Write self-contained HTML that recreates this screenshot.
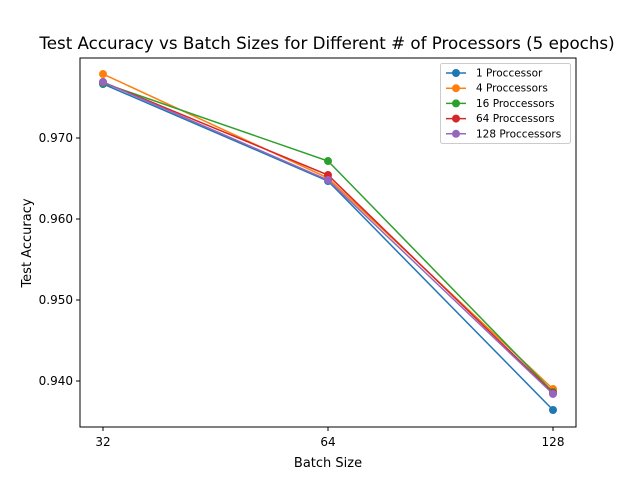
<!DOCTYPE html>
<html><head><meta charset="utf-8"><style>
body{margin:0;background:#fff;}
svg{display:block;font-family:"DejaVu Sans","Liberation Sans",sans-serif;}
</style></head><body>
<svg id="chart" width="640" height="480">
<text x="327" y="49" font-size="16.7" text-anchor="middle">Test Accuracy vs Batch Sizes for Different # of Processors (5 epochs)</text>
<g id="plot"></g>
<rect x="80" y="58" width="496" height="369" fill="none" stroke="#000" stroke-width="1"/>
<text x="328" y="467" font-size="13" text-anchor="middle">Batch Size</text>
<text x="31" y="243" font-size="13" text-anchor="middle" transform="rotate(-90 31 243)">Test Accuracy</text>
</svg>
<script>
const categories=["32","64","128"];
const seriesNames=["1 Proccessor","4 Proccessors","16 Proccessors","64 Proccessors","128 Proccessors"];
const s1=[0.97667,0.96469,0.93642];
const s4=[0.97790,0.96506,0.93901];
const s16=[0.97679,0.96716,0.93864];
const s64=[0.97691,0.96543,0.93852];
const s128=[0.97691,0.96481,0.93840];
const yTicks=[0.94,0.95,0.96,0.97];
const yTickLabels=["0.940","0.950","0.960","0.970"];
const colors=["#1f77b4","#ff7f0e","#2ca02c","#d62728","#9467bd"];
const allSeries=[s1,s4,s16,s64,s128];
const NS="http://www.w3.org/2000/svg";
const g=document.getElementById('plot');
const yMin=0.93432,yMax=0.97988,yTop=58,yBot=427;
function xs(i){return 103+i*225;}
function ys(v){return yBot-(v-yMin)/(yMax-yMin)*(yBot-yTop);}
function el(t,a){const e=document.createElementNS(NS,t);for(const k in a)e.setAttribute(k,a[k]);g.appendChild(e);return e;}
yTicks.forEach((v,i)=>{
 const y=ys(v);
 const t=el('line',{x1:76,x2:80,y1:y,y2:y,stroke:'#000'});
 
 
 const l=el('text',{x:73,y:y+4,'font-size':12,'text-anchor':'end'});
 l.textContent=yTickLabels[i];
 
 
});
categories.forEach((c,i)=>{
 const x=xs(i);
 const t=el('line',{x1:x,x2:x,y1:427,y2:431,stroke:'#000'});
 
 
 const l=el('text',{x:x,y:446,'font-size':12,'text-anchor':'middle'});
 l.textContent=c;
 
 
});
allSeries.forEach((s,k)=>{
 const pts=s.map((v,i)=>xs(i)+','+ys(v)).join(' ');
 const pl=el('polyline',{points:pts,fill:'none',stroke:colors[k],'stroke-width':1.5});
 
 
 s.forEach((v,i)=>{
  const c=el('circle',{cx:xs(i),cy:ys(v),r:4,fill:colors[k]});
  
  
 });
});
const lg=el('rect',{x:440.5,y:63.5,width:130,height:80,rx:2,fill:'#fff','fill-opacity':0.8,stroke:'#ccc'});


seriesNames.forEach((n,k)=>{
 const y=73+k*15.2;
 const ln=el('line',{x1:446,x2:466,y1:y,y2:y,stroke:colors[k],'stroke-width':1.5});
 
 
 const c=el('circle',{cx:456,cy:y,r:4,fill:colors[k]});
 
 
 const t=el('text',{x:476,y:y+3.5,'font-size':10.5});
 t.textContent=n;
 
 
});
</script>
</body></html>
